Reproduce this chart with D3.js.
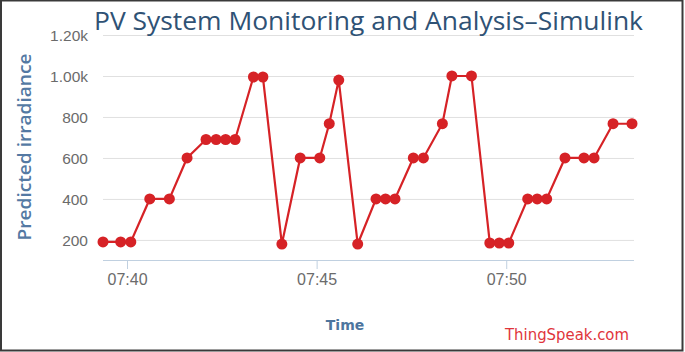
<!DOCTYPE html>
<html>
<head>
<meta charset="utf-8">
<script src="https://cdn.jsdelivr.net/npm/d3@7"></script>
<style>
  body { margin: 0; background: #fff; }
  svg { display: block; font-family: "DejaVu Sans", sans-serif; }
</style>
</head>
<body>
<div id="chart"></div>
<script>
// readings taken from the ThingSpeak channel (time of entry, predicted irradiance)
const times = ["07:39:22", "07:39:50", "07:40:06", "07:40:36", "07:41:07", "07:41:35", "07:42:05",
    "07:42:21", "07:42:36", "07:42:51", "07:43:20", "07:43:35", "07:44:05", "07:44:34", "07:45:05",
    "07:45:20", "07:45:35", "07:46:05", "07:46:34", "07:46:49", "07:47:04", "07:47:33", "07:47:49",
    "07:48:19", "07:48:34", "07:49:05", "07:49:34", "07:49:49", "07:50:04", "07:50:34", "07:50:49",
    "07:51:04", "07:51:33", "07:52:03", "07:52:19", "07:52:49", "07:53:19"];
const irradiance = [190, 190, 190, 400, 400, 600, 690, 690, 690, 690, 995, 995, 180, 600, 600,
    767, 980, 180, 400, 400, 400, 600, 600, 767, 1000, 1000, 185, 185, 185, 400, 400, 400, 600,
    600, 600, 767, 767];
const yTicks = [200, 400, 600, 800, 1000, 1200];
const xTicks = ["07:40", "07:45", "07:50"];

const width = 685;
const height = 352;
const parseTime = d3.timeParse("%H:%M:%S");
const parseTick = d3.timeParse("%H:%M");

const data = times.map((t, i) => ({ t: parseTime(t), v: irradiance[i] }));

const x = d3.scaleTime()
    .domain(d3.extent(data, d => d.t))
    .range([103, 632]);

const y = d3.scaleLinear()
    .domain([102, 1200])
    .range([260, 35]);

const svg = d3.select("#chart")
    .append("svg")
    .attr("width", width)
    .attr("height", height);

// frame
svg.append("rect")
    .attr("x", 1).attr("y", 0.5)
    .attr("width", 681.5).attr("height", 350)
    .attr("fill", "none")
    .attr("stroke", "#3a3a3a")
    .attr("stroke-width", 2);

// grid + y labels
const yAxis = d3.axisLeft(y)
    .tickValues(yTicks)
    .tickSize(-(634 - 103))
    .tickPadding(15)
    .tickFormat(d => d >= 1000 ? (d / 1000).toFixed(2) + "k" : d);

const gy = svg.append("g")
    .attr("transform", "translate(103,0)")
    .call(yAxis);
gy.select(".domain").remove();
gy.selectAll(".tick line").attr("stroke", "#e0e0e0").attr("stroke-width", 1);
gy.selectAll(".tick text")
    .attr("fill", "#6b6b6b")
    .style("font-size", "15.5px")
    .attr("dy", "0.36em");

// x axis
const xAxis = d3.axisBottom(x)
    .tickValues(xTicks.map(parseTick))
    .tickSize(9)
    .tickPadding(5)
    .tickFormat(d3.timeFormat("%H:%M"));

const gx = svg.append("g")
    .attr("transform", "translate(0,260)")
    .call(xAxis);
gx.select(".domain")
    .attr("d", "M103,0.5H634")
    .attr("stroke", "#c0d0e0");
gx.selectAll(".tick line").attr("stroke", "#c0d0e0");
gx.selectAll(".tick text")
    .attr("fill", "#6b6b6b")
    .style("font-size", "16px");

// series
const line = d3.line()
    .x(d => x(d.t))
    .y(d => y(d.v));

svg.append("path")
    .datum(data)
    .attr("fill", "none")
    .attr("stroke", "#d62226")
    .attr("stroke-width", 2.2)
    .attr("d", line);

svg.append("g")
    .selectAll("circle")
    .data(data)
    .join("circle")
    .attr("cx", d => x(d.t))
    .attr("cy", d => y(d.v))
    .attr("r", 5.5)
    .attr("fill", "#d62226");

// texts
svg.append("text")
    .attr("x", 94).attr("y", 30)
    .attr("textLength", 549)
    .attr("lengthAdjust", "spacingAndGlyphs")
    .attr("fill", "#2f5275")
    .style("font-family", "'Open Sans', sans-serif")
    .style("font-size", "26px")
    .text("PV System Monitoring and Analysis–Simulink");

svg.append("text")
    .attr("transform", "translate(31,147) rotate(-90)")
    .attr("text-anchor", "middle")
    .attr("textLength", 187)
    .attr("lengthAdjust", "spacingAndGlyphs")
    .attr("fill", "#5479a3")
    .style("font-family", "'Open Sans', sans-serif")
    .style("font-size", "18px")
    .style("font-weight", "600")
    .text("Predicted irradiance");

svg.append("text")
    .attr("x", 345).attr("y", 330)
    .attr("text-anchor", "middle")
    .attr("fill", "#4d759e")
    .style("font-size", "14px")
    .style("font-weight", "bold")
    .text("Time");

svg.append("text")
    .attr("x", 505).attr("y", 340)
    .attr("textLength", 124)
    .attr("lengthAdjust", "spacingAndGlyphs")
    .attr("fill", "#e0353b")
    .style("font-size", "15px")
    .text("ThingSpeak.com");
</script>
</body>
</html>
